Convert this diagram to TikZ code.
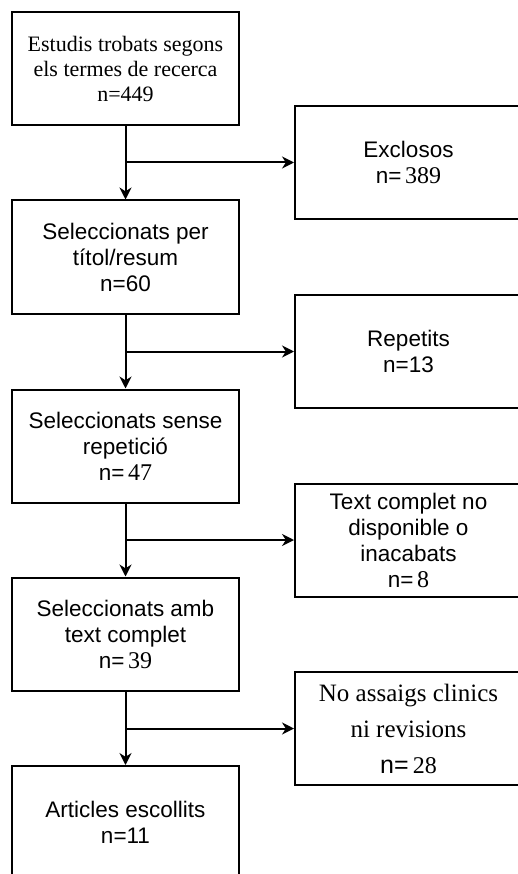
\documentclass[tikz,border=0pt]{standalone}
\usepackage{fontspec}
\setmainfont{Liberation Serif}
\setsansfont{Liberation Sans}
\usetikzlibrary{arrows.meta, positioning}
\newcommand{\nmix}[1]{{\sffamily n=}\,{\rmfamily\fontsize{24}{26}\selectfont #1}}

\begin{document}
\begin{tikzpicture}[
    x=1pt, y=-1pt,
    stagebox/.style={rectangle, draw=black, fill=white, line width=2pt, minimum width=227pt, minimum height=113pt, align=center, inner sep=0pt, font=\sffamily\fontsize{22.5}{26}\selectfont},
    serifbox/.style={stagebox, font=\rmfamily\fontsize{22}{25}\selectfont},
    arrow/.style={-{Stealth[length=12pt,width=12pt]}, line width=2pt}
]
    \useasboundingbox (0,0) rectangle (518,874);
    \clip (0,0) rectangle (518,874);

    % Selection stages
    \node[serifbox] (found) at (125.5,68.5) {Estudis trobats segons\\els termes de recerca\\n=449};
    \node[stagebox] (title) at (125.5,257) {Seleccionats per\\títol/resum\\n=60};
    \node[stagebox] (norep) at (125.5,446) {Seleccionats sense\\repetició\\\nmix{47}};
    \node[stagebox] (full) at (125.5,634) {Seleccionats amb\\text complet\\\nmix{39}};
    \node[stagebox] (final) at (125.5,822.5) {Articles escollits\\n=11};

    % Excluded at each stage
    \node[stagebox] (excl) at (408.5,162.5) {Exclosos\\\nmix{389}};
    \node[stagebox] (rep) at (408.5,351.5) {Repetits\\n=13};
    \node[stagebox] (nofull) at (408.5,540) {Text complet no\\disponible o\\inacabats\\\nmix{8}};
    \node[stagebox, font=\rmfamily\fontsize{25}{36}\selectfont] (noclin) at (408.5,728.5) {No assaigs clinics\\ni revisions\\\nmix{28}};

    % Main flow
    \draw[arrow] (found) -- (title);
    \draw[arrow] (title) -- (norep);
    \draw[arrow] (norep) -- (full);
    \draw[arrow] (full) -- (final);

    % Side branches
    \draw[arrow] (found.south |- excl.west) -- (excl.west);
    \draw[arrow] (title.south |- rep.west) -- (rep.west);
    \draw[arrow] (norep.south |- nofull.west) -- (nofull.west);
    \draw[arrow] (full.south |- noclin.west) -- (noclin.west);
\end{tikzpicture}
\end{document}
